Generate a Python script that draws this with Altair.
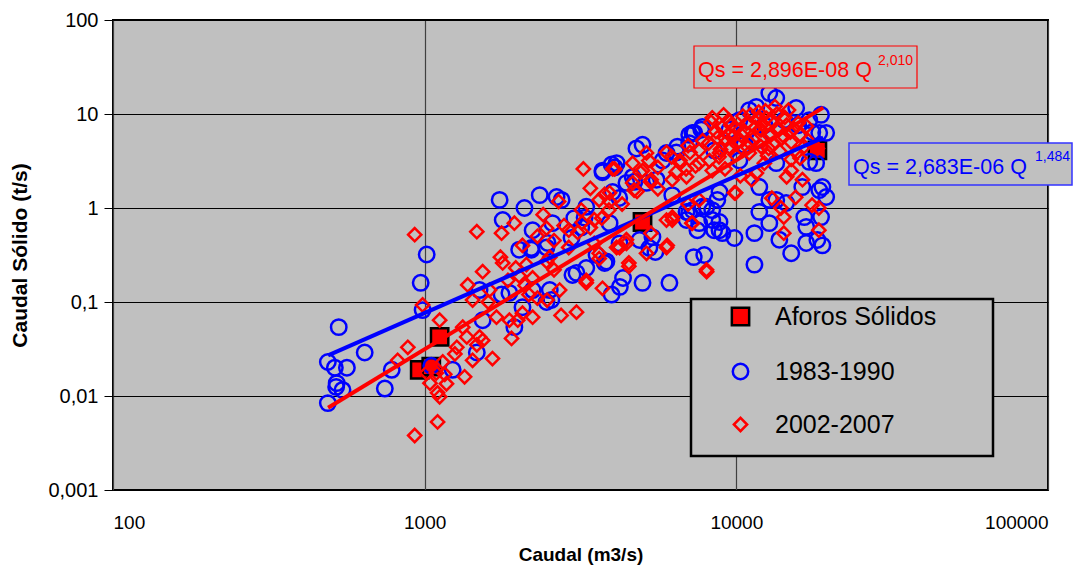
import altair as alt
import pandas as pd

# ---------------- data ----------------
series_names = ["Aforos Sólidos", "1983-1990", "2002-2007"]

aforos_q = [964, 1050, 1117, 5000, 18200]
aforos_qs = [0.019, 0.0205, 0.0425, 0.71, 4.1]

b_q = [489, 515, 563, 522, 520, 545, 489, 530, 642, 745, 784, 971, 1015, 985, 1230, 1050,
       1535, 1500, 1870, 1940, 2010, 2060, 1470, 1765, 2200, 2460, 2550, 2980, 3180, 3780,
       3980, 4230, 4330, 5000, 6100, 5500, 7300,
       12760, 13430, 15560, 11590, 7330, 7060, 18700, 17530, 18450, 19420, 17140, 18030, 13430,
       8830, 11850, 13430, 14450, 16280, 18450, 19420, 18880, 11850, 8020, 7060, 7500, 8370,
       8830, 9860, 11430, 12760, 13740, 15000, 16520, 16760, 16760, 18200, 18880, 18700, 7890,
       11430, 9020, 12760,
       1740, 2090, 1780, 2220, 2570, 2480, 2200, 2650, 2750, 3020, 3300, 3260, 3720, 4070, 4010,
       4210, 3920, 4780, 5000, 4710, 5150, 5550, 5800, 6420, 7060, 7720, 6230, 6920, 7600, 8490,
       7780, 8690, 3070, 3300, 2520, 2460, 2220, 2960, 3560, 3830, 4220, 4890, 5260, 5380, 5970,
       6470, 7230, 7780, 3980, 4130, 3720, 4440, 4650, 7230, 8370, 6920, 8830, 2340,
       10230, 11000, 12300, 14250, 9500, 10600, 11850, 15800, 17140, 8490, 10230]
b_qs = [0.023, 0.020, 0.020, 0.0137, 0.0125, 0.0116, 0.0084, 0.054, 0.029, 0.012, 0.019, 0.16,
        0.32, 0.082, 0.019, 0.021, 0.064, 0.134, 0.125, 0.054, 0.36, 0.088, 0.029, 0.12, 0.36,
        0.38, 0.105, 0.194, 0.62, 0.26, 0.12, 0.145, 0.18, 0.16, 0.16, 0.34, 0.30,
        16.7, 14.8, 11.6, 11.9, 6.3, 4.9, 9.8, 6.4, 6.3, 6.3, 3.1, 3.0, 3.0,
        1.48, 1.67, 1.22, 1.13, 1.67, 1.55, 1.31, 1.67, 0.91, 1.03, 0.885, 0.58, 0.745,
        0.58, 0.48, 0.54, 0.69, 0.46, 0.33, 0.80, 0.63, 0.425, 0.457, 0.40, 0.80, 0.316,
        0.25, 0.54, 1.22,
        1.22, 1.0, 0.745, 0.58, 0.69, 0.425, 0.375, 1.31, 1.22, 0.78, 1.03, 0.79, 2.4, 2.7, 1.48,
        1.28, 0.69, 4.3, 4.7, 1.9, 1.85, 2.0, 3.2, 3.9, 6.0, 6.8, 1.37, 0.91, 0.69, 0.58,
        1.03, 1.22, 0.204, 0.23, 0.134, 0.10, 0.134, 0.48, 0.316, 0.27, 0.42, 0.457, 0.375, 0.49, 3.85,
        4.5, 6.3, 7.3, 2.9, 3.0, 2.5, 1.85, 2.14, 0.95, 0.95, 0.745, 0.71, 1.37,
        8.6, 11.0, 7.6, 8.6, 6.8, 4.7, 5.3, 7.6, 8.6, 4.1, 3.2]

r_q = [929, 1470, 985, 1117, 883, 819, 1100, 929, 1040, 1100, 1117, 1015, 1090, 1143, 1268, 1365,
       1470, 1425, 1343, 1500, 1650, 1780, 1535, 1375, 1425, 1615, 1700, 1870, 1900, 2060, 1535,
       1325, 1250, 1175, 1160, 1765, 2010, 2120, 2220, 2460, 2710, 3070, 2740, 2220, 2160, 1990,
       3630, 3300, 3720, 4520, 4220, 5150, 5970, 4440,
       3230, 3400, 4070, 3630, 3920, 3180, 2690, 2460, 1940, 2060, 1960, 2520, 2470, 3300, 3630,
       4130, 4440, 4520, 6000, 5320, 6230, 7230, 8030, 3700, 4650, 4920, 5330, 4700, 5150, 5970,
       6230, 6920, 7600, 8370, 3920, 4010, 3780, 4650, 5000, 5240, 6600, 7600, 8370, 9100, 9600,
       8150, 8830, 9860, 5970, 6230,
       8300, 9450, 8600, 7100, 6600, 7400, 8200, 8800, 9600, 10400, 11800, 12000, 13000, 13700,
       14500, 12000, 11000, 12700, 11600, 11200, 9950, 14500, 15000, 16300, 15500, 13000, 13900,
       14200, 14200, 17500, 18400, 18400, 15000, 15600, 8020, 7000, 7200, 18200,
       10000, 10800, 11500, 12500, 13500, 14000, 15000, 16000, 16500, 12800, 11000, 10000, 9200,
       13300, 10500, 9000, 15800, 14700, 7800, 7000, 6200, 5600, 5600, 6400, 9200, 10300, 12300,
       17000, 16000,
       2300, 2600, 2900, 2400, 2800, 3100, 3400, 3500, 1750, 1850, 2100, 2300, 2600, 1600,
       9800, 10600, 11300, 12100, 12900, 13600, 14300, 11700, 10900, 9900, 13100, 14900, 12400,
       11100, 9500, 8700, 12600, 13800, 15300, 10200, 8900, 11900, 14100, 16800, 7600, 6900,
       5300, 4800, 4300, 3900, 3500, 3200, 2900]
r_qs = [0.52, 0.56, 0.093, 0.064, 0.033, 0.024, 0.0053, 0.0038, 0.0137, 0.0108, 0.0098, 0.0176,
        0.0176, 0.023, 0.033, 0.0425, 0.035, 0.024, 0.016, 0.0425, 0.025, 0.26, 0.21, 0.152, 0.105,
        0.134, 0.069, 0.064, 0.041, 0.076, 0.039, 0.054, 0.028, 0.0135, 0.017, 0.54, 0.19, 0.25,
        0.18, 0.27, 0.134, 0.078, 0.072, 0.069, 0.12, 0.064, 0.33, 0.17, 0.14, 0.26, 0.38, 0.33,
        0.38, 0.46,
        2.6, 1.62, 2.6, 1.22, 1.45, 0.95, 1.17, 0.61, 0.69, 0.40, 0.23, 0.30, 0.105, 0.16, 0.29,
        0.38, 0.42, 0.24, 0.40, 0.54, 0.80, 0.69, 0.21, 0.78, 3.0, 2.4, 2.0, 1.55, 3.85, 3.9,
        2.0, 2.15, 1.22, 2.5, 1.17, 2.6, 1.4, 1.85, 2.5, 3.2, 3.0, 4.1, 9.1, 9.8, 7.6,
        4.9, 3.85, 1.45, 0.745, 0.745,
        8.2, 8.6, 6.5, 3.9, 3.2, 2.8, 3.2, 3.5, 4.3, 6.0, 10.5, 6.8, 8.6, 6.8,
        7.6, 4.5, 3.85, 4.3, 2.35, 2.0, 1.45, 2.15, 2.5, 2.0, 1.3, 1.27, 1.0,
        0.80, 0.54, 1.07, 1.0, 0.58, 3.3, 3.85, 0.22, 1.1, 0.69, 4.3,
        7.0, 8.0, 7.2, 9.0, 10.0, 5.5, 5.0, 6.0, 4.5, 5.8, 5.0, 4.8, 5.5,
        12.0, 9.5, 7.2, 8.0, 11.0, 5.2, 4.6, 3.5, 2.7, 1.6, 2.4, 2.6, 2.2, 3.0,
        5.2, 3.4,
        0.50, 0.45, 0.38, 0.85, 0.65, 0.55, 0.62, 0.42, 0.30, 0.17, 0.15, 0.11, 0.22, 0.10,
        5.8, 6.6, 5.4, 7.8, 6.2, 7.1, 9.2, 8.9, 4.4, 3.7, 4.8, 6.4, 10.8,
        9.8, 6.0, 5.6, 3.6, 4.0, 7.0, 5.2, 4.2, 6.9, 5.9, 7.4, 3.0, 2.6,
        1.9, 1.5, 1.1, 0.95, 0.75, 0.70, 0.58]

# trend lines (end points)
fit_q = [490, 19000]
fit_blue_qs = [0.027, 5.6]
fit_red_qs = [0.0075, 11.7]

x_ticks = [100, 1000, 10000, 100000]
y_ticks = [0.001, 0.01, 0.1, 1, 10, 100]

# ---------------- build tables ----------------
pts = pd.concat([
    pd.DataFrame({"Q": aforos_q, "Qs": aforos_qs, "series": series_names[0]}),
    pd.DataFrame({"Q": b_q, "Qs": b_qs, "series": series_names[1]}),
    pd.DataFrame({"Q": r_q, "Qs": r_qs, "series": series_names[2]}),
], ignore_index=True)

blue_fit = pd.DataFrame({"Q": fit_q, "Qs": fit_blue_qs})
red_fit = pd.DataFrame({"Q": fit_q, "Qs": fit_red_qs})
one = pd.DataFrame({"k": [0]})

FONT = "Liberation Sans"

x_enc = alt.X("Q:Q", scale=alt.Scale(type="log", domain=[100, 100000], nice=False),
              axis=alt.Axis(values=x_ticks, format="d", title="Caudal (m3/s)",
                            labelFontSize=19, labelFont=FONT, labelColor="black",
                            tickSize=0, labelPadding=23, domain=False,
                            grid=True, gridColor="#404040", gridWidth=1.2,
                            titleFontSize=19, titleFont=FONT, titleFontWeight="bold",
                            titleColor="black", titleY=64, titleBaseline="middle"))
y_enc = alt.Y("Qs:Q", scale=alt.Scale(type="log", domain=[0.001, 100], nice=False),
              axis=alt.Axis(values=y_ticks,
                            labelExpr="datum.value >= 1 ? format(datum.value, 'd') : replace(format(datum.value, '.3~f'), '.', ',')",
                            title="Caudal Sólido (t/s)",
                            labelFontSize=20, labelFont=FONT, labelColor="black",
                            tickSize=9, tickColor="black", tickWidth=1, labelPadding=6,
                            domain=False, grid=True, gridColor="black", gridWidth=1,
                            titleFontSize=21, titleFont=FONT, titleFontWeight="bold",
                            titleColor="black", titleAngle=270, titleX=-93, titleY=235,
                            titleBaseline="middle", titleAlign="center"))

leg = alt.Legend(title=None, orient="none", legendX=615, legendY=284, padding=0,
                 labelFontSize=25, labelFont=FONT, labelColor="black", labelLimit=400,
                 rowPadding=27, labelOffset=22, symbolStrokeWidth=2.5)

points = alt.Chart(pts).mark_point(strokeWidth=2.5, opacity=1, fillOpacity=1).encode(
    x=x_enc,
    y=y_enc,
    shape=alt.Shape("series:N", scale=alt.Scale(domain=series_names, range=["square", "circle", "diamond"]), legend=leg),
    stroke=alt.Stroke("series:N", scale=alt.Scale(domain=series_names, range=["#000000", "#0000FF", "#FF0000"]), legend=leg),
    fill=alt.Fill("series:N", scale=alt.Scale(domain=series_names, range=["#FF0000", "transparent", "transparent"]), legend=leg),
    size=alt.Size("series:N", scale=alt.Scale(domain=series_names, range=[300, 175, 215]), legend=leg),
)

line_b = alt.Chart(blue_fit).mark_line(color="#0000FF", strokeWidth=4).encode(x="Q:Q", y="Qs:Q")
line_r = alt.Chart(red_fit).mark_line(color="#FF0000", strokeWidth=4).encode(x="Q:Q", y="Qs:Q")

def box(x1, x2, y1, y2, stroke, sw):
    return alt.Chart(one).mark_rect(fill="#C0C0C0", stroke=stroke, strokeWidth=sw).encode(
        x=alt.value(x1), x2=alt.value(x2), y=alt.value(y1), y2=alt.value(y2))

def txt(s, x, y, size, color):
    return alt.Chart(one).mark_text(text=s, align="left", baseline="alphabetic",
                                    fontSize=size, font=FONT, color=color).encode(
        x=alt.value(x), y=alt.value(y))

red_box = box(581, 804, 26, 68, "#FF0000", 1.2)
red_txt = txt("Qs = 2,896E-08 Q", 585, 57, 21.5, "#FF0000")
red_sup = txt("2,010", 765, 45, 14, "#FF0000")
blue_box = box(736, 959, 123, 165, "#3333FF", 1.5)
blue_txt = txt("Qs = 2,683E-06 Q", 740, 154, 21.5, "#0000FF")
blue_sup = txt("1,484", 922, 141, 14, "#0000FF")
legend_box = box(578, 880, 279, 436, "#000000", 2.5)

chart = alt.layer(points, line_b, line_r, red_box, red_txt, red_sup,
                  blue_box, blue_txt, blue_sup, legend_box).properties(
    width=935, height=470,
    autosize=alt.AutoSizeParams(type="none"),
    padding={"left": 105, "top": 12, "right": 30, "bottom": 75},
).configure(font=FONT).configure_view(
    fill="#C0C0C0", stroke="black", strokeWidth=2
)

chart.save("out.html", embed_options={"renderer": "svg", "actions": False})
